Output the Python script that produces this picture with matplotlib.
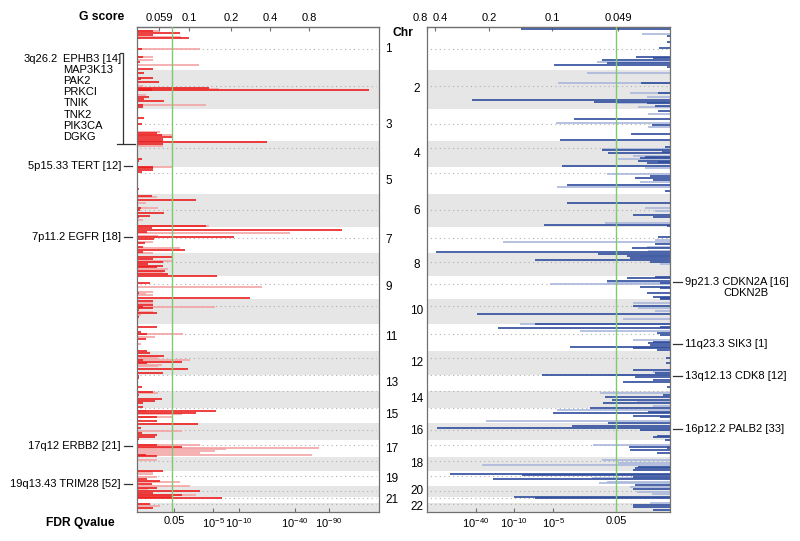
import matplotlib.pyplot as plt
from matplotlib.transforms import blended_transform_factory

plt.rcParams['font.family'] = ['Liberation Sans', 'DejaVu Sans']
plt.rcParams['mathtext.default'] = 'regular'

# genome position units (0 = start of chr1, 485 = end of chr22)
chr_edges = [0, 43, 82, 114, 140, 167, 200, 226, 249, 272, 297, 324, 348,
             364, 381, 396, 413, 430, 444, 459, 470, 476, 485]
centromeres = [22, 59, 97, 121, 146, 183, 211, 235, 257, 279, 307, 331, 348,
               364, 381, 403, 418, 434, 449, 464, 471, 477]

# amplifications: (position, score length) - strong and weak calls
amp_strong_pos = [3.7, 6.3, 7.7, 11, 22.3, 30.3, 34.7, 42.3, 46.3, 50.7, 52.3, 55,
                  61, 62, 62.5, 63, 69.7, 72.3, 73.7, 78.3, 80.3, 90.7, 97,
                  106.3, 108, 109.7, 112.3, 113.7, 115.3, 117, 132.3, 134, 139.7,
                  141.3, 143, 145.3, 162.3, 169, 173, 181.3, 183, 185.7, 189, 190.3,
                  199, 201.3, 203, 204.7, 210.3, 212, 216.3, 219.7, 223, 224.7,
                  230.3, 232, 235.3, 237, 238.7, 240.3, 243.7, 247, 248.7, 255.7,
                  265.7, 271.3, 273.7, 277.7, 279.7, 281.3, 283, 286.3, 290.3,
                  300.3, 305.3, 307, 312, 323.7, 326.3, 329, 333, 334.7, 336.3,
                  342.3, 345.7, 349, 350.7, 360.3, 364.7, 368, 372, 374, 375.7,
                  380.3, 384, 385.7, 389.7, 393.7, 397, 401.3, 405.7, 408, 409.7,
                  412, 418, 420.3, 428, 429, 443.7, 452, 453.7, 457.3, 460.7,
                  463.7, 465.7, 468, 469.7, 471.3, 477.3, 481.3]
amp_strong_len = [16, 43, 16, 52, 5, 6, 3, 16, 7, 16, 4, 22,
                  72, 15, 232, 15, 12, 7, 27, 6, 6, 7, 5,
                  20, 25, 36, 26, 26, 130, 26, 5, 2, 16,
                  16, 16, 5, 2, 15, 59, 4, 3, 27, 13, 2,
                  69, 15, 205, 10, 97, 17, 8, 6, 48, 6,
                  36, 16, 26, 11, 26, 20, 28, 31, 80, 13,
                  2, 113, 16, 16, 6, 16, 2, 20, 2,
                  20, 4, 10, 9, 10, 13, 27, 6, 45, 10,
                  51, 26, 2, 2, 5, 16, 2, 25, 18, 6,
                  6, 79, 59, 20, 20, 61, 4, 5, 20, 18,
                  2, 20, 45, 9, 20, 26, 10, 23, 15, 20,
                  63, 16, 45, 35, 85, 13, 16]
amp_weak_pos = [3.7, 9.7, 22.3, 30.3, 33, 38, 59, 61.5, 68, 78.3, 104.7, 108,
                119, 139.7, 170.3, 176.3, 181.3, 193, 199, 206.3, 209, 214.7,
                220.7, 226.3, 233.7, 242, 245.3, 260.3, 264.7, 267, 268, 275.7,
                279.7, 284.7, 288, 307, 309.7, 317, 331.3, 333, 337.7, 339,
                366.3, 384, 387.3, 389.7, 403.7, 418, 420.7, 421.5, 424, 425.7,
                428, 433, 445.3, 447.3, 449.7, 455.3, 458.7, 462.3, 468, 479]
amp_weak_len = [22, 44, 63, 16, 16, 62, 6, 82, 9, 69, 23, 36,
                26, 36, 20, 9, 21, 6, 72, 153, 21, 16,
                43, 16, 35, 31, 26, 125, 16, 9, 16, 16,
                78, 16, 4, 46, 18, 4, 21, 53, 25, 21,
                21, 9, 45, 35, 45, 63, 182, 89, 78, 63,
                175, 20, 16, 16, 20, 43, 53, 11, 59, 23]

# deletions
del_strong_pos = [2.3, 9, 14.7, 21.3, 29.7, 31.3, 33, 36.3, 38, 39.7, 55.7, 65.7,
                  73, 74.5, 75.5, 79, 83.7, 92, 98, 107, 113, 119.7, 123, 125,
                  126.3, 129.7, 131.3, 134, 135, 136.3, 138.7, 148.7, 150.7, 153,
                  158, 163.7, 175.7, 188, 189.7, 198, 199, 210.3, 217, 221.3,
                  225.3, 227, 229, 231.3, 233, 234.7, 249.7, 251.3, 253.7, 255.7,
                  259.7, 261.3, 266.3, 269.7, 271.3, 272.3, 279, 287, 297, 299.7,
                  301.3, 305.7, 308, 314.7, 316.3, 318, 319.7, 321.3, 323, 331.3,
                  335.7, 343, 346.3, 348, 350.3, 353, 355.3, 359.7, 368, 369.7,
                  373, 376.3, 381.3, 384.7, 386.3, 389, 390.3, 396.3, 399, 401.3,
                  403, 408.7, 410.3, 413, 419.7, 421.3, 423, 425.7, 439.7, 441.3,
                  443, 447, 448, 449.7, 452.3, 458, 462.3, 469.7, 471.3, 478,
                  479.7, 483]
del_strong_len = [149, 3, 3, 11, 34, 17, 68, 63, 116, 3, 29, 12,
                  198, 76, 23, 15, 12, 96, 18, 39, 110, 5, 68, 8,
                  62, 25, 30, 32, 12, 23, 108, 20, 35, 17,
                  103, 5, 103, 37, 17, 126, 3, 12, 15, 38,
                  234, 72, 43, 40, 135, 20, 15, 43, 63, 10,
                  30, 10, 23, 17, 10, 10, 37, 193, 135, 10,
                  172, 13, 10, 17, 22, 20, 100, 37, 13, 4,
                  4, 37, 15, 128, 35, 17, 47, 3, 7, 65,
                  58, 67, 80, 22, 117, 37, 10, 62, 98, 233,
                  30, 13, 17, 5, 41, 3, 40, 13, 32, 35,
                  37, 220, 148, 37, 177, 35, 37, 156, 135, 37,
                  37, 17]
del_weak_pos = [7, 34.7, 45.7, 55.7, 65.7, 69.7, 76.3, 80.3, 87, 95.7, 100.3,
                122.3, 129, 132, 141.3, 147.3, 154.7, 159.7, 181.3, 184, 195.7,
                213, 214.7, 219.7, 223.7, 229, 237, 255.7, 257.3, 275.7, 281.3,
                283.7, 292, 297, 303.7, 313, 344.7, 348, 365.7, 374.7, 379, 383,
                393.7, 403, 418, 433, 435.7, 438, 450.7, 454.7, 456.3, 459.7,
                464.7, 467.3, 476.3]
del_weak_len = [28, 73, 83, 112, 40, 23, 53, 32, 22, 114, 22,
                68, 37, 52, 25, 63, 30, 113, 25, 15, 65,
                15, 167, 23, 22, 30, 10, 63, 120, 37, 32,
                15, 47, 150, 90, 37, 17, 60, 70, 33, 17, 113,
                184, 30, 77, 68, 52, 188, 78, 63, 71, 40,
                33, 18, 20]

amp_ticks_top = [22, 52, 94, 133, 172]
amp_labels_top = ['0.059', '0.1', '0.2', '0.4', '0.8']
amp_ticks_bot = [37, 76, 102, 158, 192]
amp_labels_bot = ['0.05', '$10^{-5}$', '$10^{-10}$', '$10^{-40}$', '$10^{-90}$']
del_ticks_top = [181, 118, 52]
del_labels_top = ['0.2', '0.1', '0.049']
del_ticks_bot = [194, 156, 117, 54]
del_labels_bot = ['$10^{-40}$', '$10^{-10}$', '$10^{-5}$', '0.05']

amp_peaks = [('5p15.33 TERT [12]', 139), ('7p11.2 EGFR [18]', 210),
             ('17q12 ERBB2 [21]', 419), ('19q13.43 TRIM28 [52]', 457.3)]
genes_3q = ['EPHB3 [14]', 'MAP3K13', 'PAK2', 'PRKCI', 'TNIK', 'TNK2', 'PIK3CA', 'DGKG']
del_peaks = [('9p21.3 CDKN2A [16]', 254.7), ('11q23.3 SIK3 [1]', 317.3),
             ('13q12.13 CDK8 [12]', 348.7), ('16p12.2 PALB2 [33]', 402)]

fs = 8
fig = plt.figure(figsize=(8, 5.41), dpi=100)
axL = fig.add_axes([137 / 800, 1 - 512 / 541, 242 / 800, 485 / 541])
axR = fig.add_axes([427 / 800, 1 - 512 / 541, 243 / 800, 485 / 541])

for ax, xmax in [(axL, 242), (axR, 243)]:
    for i in range(22):
        if i % 2 == 1:
            ax.axhspan(chr_edges[i], chr_edges[i + 1], color='#e6e6e6', lw=0, zorder=0)
    ax.hlines(centromeres, 3, xmax - 3, colors='#b0b0b0', linestyles=(0, (1, 3)),
              lw=0.8, zorder=1)
    ax.set_ylim(485, 0)
    ax.set_yticks([])
    for s in ax.spines.values():
        s.set_color('#707070')
        s.set_linewidth(0.9)
    ax.tick_params(axis='x', direction='in', length=3, labelsize=fs, pad=3,
                   color='#707070')

line_kw = dict(lw=1.2, zorder=2, capstyle='butt')

# amplification panel
axL.hlines(amp_weak_pos, 0, amp_weak_len, colors='#f4a3a3', **line_kw)
axL.hlines(amp_strong_pos, 0, amp_strong_len, colors='#ec1c1c', **line_kw)
axL.axvline(35, color='#7ccc6c', lw=1, zorder=3)
axL.set_xlim(0, 242)
axL.set_xticks(amp_ticks_bot, amp_labels_bot)
topL = axL.secondary_xaxis('top')
topL.set_xticks(amp_ticks_top, amp_labels_top)
topL.tick_params(direction='in', length=3, labelsize=fs, pad=3, color='#707070')

# deletion panel
axR.hlines(del_weak_pos, 0, del_weak_len, colors='#a9b7dc', **line_kw)
axR.hlines(del_strong_pos, 0, del_strong_len, colors='#2d4c9c', **line_kw)
axR.axvline(54, color='#7ccc6c', lw=1, zorder=3)
axR.set_xlim(243, 0)
axR.set_xticks(del_ticks_bot, del_labels_bot)
topR = axR.secondary_xaxis('top')
topR.set_xticks([243, 235] + del_ticks_top, [''] * 2 + del_labels_top)
topR.tick_params(direction='in', length=3, labelsize=fs, pad=3, color='#707070')
trR = blended_transform_factory(axR.transData, axR.transAxes)
axR.text(250, 1.0195, '0.8', transform=trR, ha='center', va='center', fontsize=fs)
axR.text(230, 1.0195, '0.4', transform=trR, ha='center', va='center', fontsize=fs)

# chromosome numbers
trL_ = blended_transform_factory(axL.transAxes, axL.transData)
trR_ = blended_transform_factory(axR.transAxes, axR.transData)
for i in range(22):
    mid = (chr_edges[i] + chr_edges[i + 1]) / 2
    if i % 2 == 0:
        axL.text(1.027, mid, str(i + 1), transform=trL_, ha='left', va='center',
                 fontsize=8.5)
    else:
        axR.text(-0.042, mid, str(i + 1), transform=trR_, ha='center', va='center',
                 fontsize=8.5)

# peak annotations, amplifications
for name, y in amp_peaks:
    axL.text(-16, y, name, ha='right', va='center', fontsize=fs, clip_on=False)
    axL.plot([-13, -5], [y, y], color='#333333', lw=0.9, clip_on=False)
axL.text(-113.7, 31.7, '3q26.2', ha='left', va='center', fontsize=fs, clip_on=False)
for k, g in enumerate(genes_3q):
    axL.text(-73.7, 31.7 + 11.2 * k, g, ha='left', va='center', fontsize=fs,
             clip_on=False)
axL.plot([-17, -14, -14], [26, 26, 116.5], color='#333333', lw=0.9, clip_on=False)
axL.plot([-20, -2], [116.5, 116.5], color='#333333', lw=0.9, clip_on=False)

# peak annotations, deletions
for name, y in del_peaks:
    axR.text(-15, y, name, ha='left', va='center', fontsize=fs, clip_on=False)
    axR.plot([-3, -12], [y, y], color='#333333', lw=0.9, clip_on=False)
axR.text(-53, 265.7, 'CDKN2B', ha='left', va='center', fontsize=fs, clip_on=False)

fig.text(102 / 800, 1 - 17 / 541, 'G score', ha='center', va='center',
         fontsize=8.7, fontweight='bold')
fig.text(80 / 800, 1 - 523 / 541, 'FDR Qvalue', ha='center', va='center',
         fontsize=8.7, fontweight='bold')
fig.text(403 / 800, 1 - 33 / 541, 'Chr', ha='center', va='center',
         fontsize=8.7, fontweight='bold')

fig.savefig('out.png', dpi=100)
